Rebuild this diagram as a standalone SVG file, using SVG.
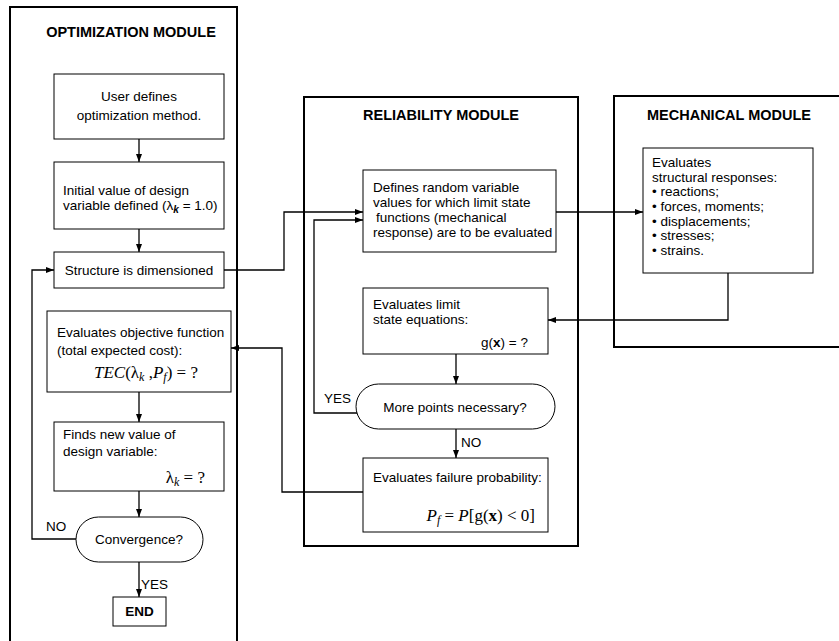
<svg xmlns="http://www.w3.org/2000/svg" width="839" height="641" viewBox="0 0 839 641">
<style>
.frame{fill:none;stroke:#000;stroke-width:2}
.box{fill:#fff;stroke:#000;stroke-width:1}
.conn{fill:none;stroke:#000;stroke-width:1.3}
text{font-family:"Liberation Sans",Arial,sans-serif;font-size:13.5px;fill:#000}
.title{font-weight:bold;font-size:14.5px}
.c{text-anchor:middle}
.e{text-anchor:end}
.math{font-family:"Liberation Serif","Times New Roman",serif;font-size:17px}
.it{font-style:italic}
</style>
<defs>
<marker id="ah" markerWidth="8" markerHeight="6" refX="8" refY="3" orient="auto" markerUnits="userSpaceOnUse"><path d="M0,0 L8,3 L0,6 z" fill="#000"/></marker>
</defs>
<rect width="839" height="641" fill="#fff"/>
<g id="optimization-module">
<rect class="frame" x="10" y="7" width="227" height="650"/>
<text class="title c" x="131" y="37">OPTIMIZATION MODULE</text>
</g>
<g id="reliability-module">
<rect class="frame" x="304" y="97" width="274" height="449"/>
<text class="title c" x="441" y="120">RELIABILITY MODULE</text>
</g>
<g id="mechanical-module">
<rect class="frame" x="614" y="96" width="240" height="251"/>
<text class="title c" x="729" y="120">MECHANICAL MODULE</text>
</g>
<g id="connectors">
<path class="conn" d="M139,139 V162" marker-end="url(#ah)"/>
<path class="conn" d="M139,229 V252" marker-end="url(#ah)"/>
<path class="conn" d="M224,270 H284 V212 H363" marker-end="url(#ah)"/>
<path class="conn" d="M139,392 V422" marker-end="url(#ah)"/>
<path class="conn" d="M139,491 V517" marker-end="url(#ah)"/>
<path class="conn" d="M139,562 V597" marker-end="url(#ah)"/>
<path class="conn" d="M76,539 H32 V270 H54" marker-end="url(#ah)"/>
<path class="conn" d="M556,212 H643" marker-end="url(#ah)"/>
<path class="conn" d="M728,273 V320 H548" marker-end="url(#ah)"/>
<path class="conn" d="M456,354 V384" marker-end="url(#ah)"/>
<path class="conn" d="M357,413 H314 V220 H363" marker-end="url(#ah)"/>
<path class="conn" d="M456,429 V458" marker-end="url(#ah)"/>
<path class="conn" d="M363,492 H282 V348 H231" marker-end="url(#ah)"/>
</g>
<g id="user-defines">
<rect class="box" x="54" y="74" width="170" height="65"/>
<text class="c" x="139" y="101">User defines</text>
<text class="c" x="139" y="120">optimization method.</text>
</g>
<g id="initial-value">
<rect class="box" x="54" y="162" width="170" height="67"/>
<text x="63" y="195">Initial value of design</text>
<text x="63" y="210">variable defined (λ<tspan class="it" font-size="10" font-weight="bold" dy="3">k</tspan><tspan dy="-3"> = 1.0)</tspan></text>
</g>
<g id="structure-dimensioned">
<rect class="box" x="54" y="252" width="170" height="36"/>
<text class="c" x="139" y="275">Structure is dimensioned</text>
</g>
<g id="objective-function">
<rect class="box" x="47" y="311" width="184" height="81"/>
<text x="57" y="337">Evaluates objective function</text>
<text x="57" y="355">(total expected cost):</text>
<text class="math c" x="146" y="378"><tspan class="it">TEC</tspan>(λ<tspan class="it" font-size="12" dy="3">k</tspan><tspan dy="-3"> ,</tspan><tspan class="it">P</tspan><tspan class="it" font-size="12" dy="3">f</tspan><tspan dy="-3">) = ?</tspan></text>
</g>
<g id="new-value">
<rect class="box" x="54" y="422" width="170" height="69"/>
<text x="63" y="439">Finds new value of</text>
<text x="63" y="456">design variable:</text>
<text class="math e" x="205" y="483" font-size="18">λ<tspan class="it" font-size="12" dy="3">k</tspan><tspan dy="-3"> = ?</tspan></text>
</g>
<g id="convergence">
<rect class="box" x="76" y="517" width="127" height="45" rx="22.5"/>
<text class="c" x="139" y="544">Convergence?</text>
<text x="46" y="531">NO</text>
<text x="141" y="589">YES</text>
</g>
<g id="end">
<rect class="box" x="113" y="597" width="53" height="29"/>
<text class="c" x="139.5" y="616" font-weight="bold">END</text>
</g>
<g id="random-variables">
<rect class="box" x="363" y="170" width="193" height="82"/>
<text x="373" y="192">Defines random variable</text>
<text x="373" y="207">values for which limit state</text>
<text x="376" y="222">functions (mechanical</text>
<text x="373" y="237">response) are to be evaluated</text>
</g>
<g id="limit-state">
<rect class="box" x="363" y="288" width="185" height="66"/>
<text x="373" y="309">Evaluates limit</text>
<text x="373" y="324">state equations:</text>
<text class="e" x="528" y="347" font-size="16.5">g(<tspan font-weight="bold">x</tspan>) = ?</text>
</g>
<g id="more-points">
<rect class="box" x="356" y="384" width="199" height="45" rx="22.5"/>
<text class="c" x="455" y="412">More points necessary?</text>
<text x="324" y="403">YES</text>
<text x="461" y="447">NO</text>
</g>
<g id="failure-probability">
<rect class="box" x="363" y="458" width="185" height="74"/>
<text x="373" y="482">Evaluates failure probability:</text>
<text class="math e" x="535" y="521" font-size="18"><tspan class="it">P</tspan><tspan class="it" font-size="12" dy="3">f</tspan><tspan dy="-3"> = </tspan><tspan class="it">P</tspan>[g(<tspan font-weight="bold">x</tspan>) &lt; 0]</text>
</g>
<g id="structural-responses">
<rect class="box" x="643" y="148" width="170" height="125"/>
<text x="652" y="167">Evaluates</text>
<text x="652" y="182">structural responses:</text>
<text x="652" y="196">• reactions;</text>
<text x="652" y="211">• forces, moments;</text>
<text x="652" y="226">• displacements;</text>
<text x="652" y="240">• stresses;</text>
<text x="652" y="255">• strains.</text>
</g>
</svg>
